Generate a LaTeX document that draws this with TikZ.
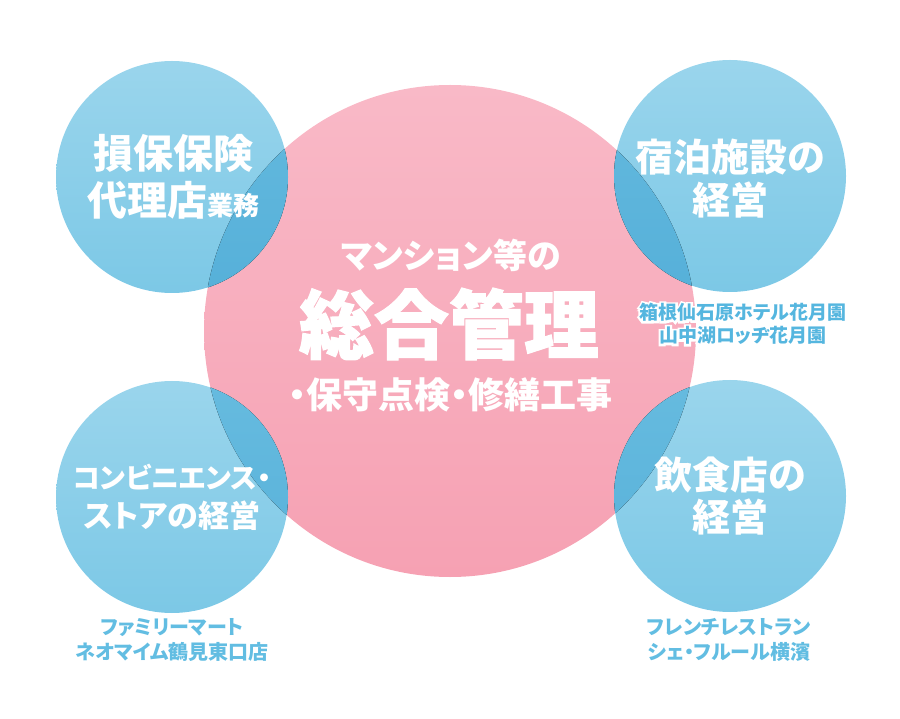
\documentclass[tikz,border=0pt]{standalone}
\usepackage{fontspec}
\setmainfont{Noto Sans CJK JP}[RawFeature=+palt]
\newfontfamily\heavyfont{Noto Sans CJK JP}[RawFeature=+palt, BoldFeatures={FakeBold=1.5}]
\newfontfamily\halofont{Noto Sans CJK JP}[RawFeature=+palt, BoldFeatures={FakeBold=22}]

\definecolor{bluetop}{HTML}{9AD5EC}
\definecolor{bluebot}{HTML}{7CC8E6}
\definecolor{pinktop}{HTML}{F9B9C7}
\definecolor{pinkbot}{HTML}{F6A1B3}
\definecolor{overtop}{HTML}{66BBDF}
\definecolor{overbot}{HTML}{56B0D9}
\definecolor{captext}{HTML}{62BDE2}
\definecolor{hoteltext}{HTML}{55B6DF}

\begin{document}
\begin{tikzpicture}[
  x=1pt, y=-1pt,
  bubble/.style = {circle, inner sep=0pt, minimum size=232pt, top color=bluetop, bottom color=bluebot},
  hub/.style = {circle, inner sep=0pt, minimum size=492pt, top color=pinktop, bottom color=pinkbot},
  btext/.style = {text=white, align=center, inner sep=0pt},
  ctext/.style = {text=captext, align=center, inner sep=0pt,
    font=\bfseries\fontsize{20}{25}\selectfont}
]
\useasboundingbox (0,0) rectangle (900,719);

% Circles: centre hub, four side bubbles
\node [hub] (mgmt) at (450,331) {};
\node [bubble] (insur) at (172,177) {};
\node [bubble] (hotel) at (730,176) {};
\node [bubble] (store) at (172,497) {};
\node [bubble] (diner) at (730,496) {};

% Darker blue where the bubbles lie on the hub
\begin{scope}
  \clip (mgmt.center) circle [radius=246pt];
  \foreach \b in {insur, hotel, store, diner}
    \fill [top color=overtop, bottom color=overbot] (\b.center) circle [radius=116pt];
\end{scope}

% Centre text
\node [btext, font=\bfseries\fontsize{34}{40}\selectfont] (mgmtA) at (451,255)
  {マンション等の};
\node [btext, font=\heavyfont\bfseries\fontsize{75}{80}\selectfont] (mgmtB) at (449,324)
  {総合管理};
\node [btext, font=\bfseries\fontsize{36}{42}\selectfont] (mgmtC) at (450,395)
  {・保守点検・修繕工事};

% Bubble texts
\node [btext, font=\bfseries\fontsize{40}{47}\selectfont] (insurT) at (173,177)
  {損保保険\\代理店{\fontsize{26}{30}\selectfont 業務}};
\node [btext, font=\bfseries\fontsize{38}{43}\selectfont] (hotelT) at (730,179)
  {宿泊施設の\\経営};
\node [btext, font=\bfseries\fontsize{31}{39}\selectfont] (storeT) at (172,497)
  {{\fontsize{28}{39}\selectfont コンビニエンス・}\\ストアの経営};
\node [btext, font=\bfseries\fontsize{38}{42}\selectfont] (dinerT) at (730,496)
  {飲食店の\\経営};

% Captions (hotel names sit on a white halo)
\node [ctext, text=white, font=\halofont\bfseries\fontsize{19}{23}\selectfont] (hotelH) at (743,324)
  {箱根仙石原ホテル花月園\\山中湖ロッヂ花月園};
\node [ctext, text=hoteltext, font=\bfseries\fontsize{19}{23}\selectfont] (hotelC) at (743,324)
  {箱根仙石原ホテル花月園\\山中湖ロッヂ花月園};
\node [ctext] (storeC) at (172,640)
  {ファミリーマート\\ネオマイム鶴見東口店};
\node [ctext] (dinerC) at (729,640)
  {フレンチレストラン\\シェ・フルール横濱};

\end{tikzpicture}
\end{document}
